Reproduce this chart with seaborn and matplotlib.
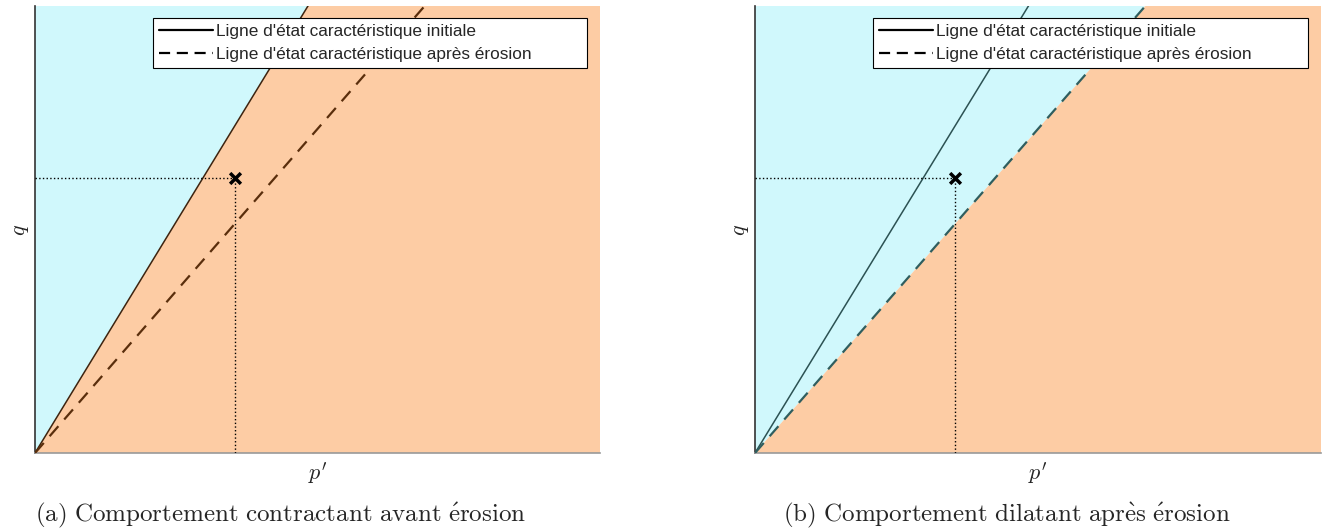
import matplotlib
matplotlib.use("Agg")
import matplotlib.pyplot as plt
from matplotlib.lines import Line2D
import seaborn as sns
import pandas as pd

# characteristic state lines (q = M p'), arbitrary units
p_line = [0.0, 1.0]
q_initial = [0.0, 2.07]
q_eroded = [0.0, 1.45]

# current stress state
state_p = [0.354]
state_q = [0.615]

legend_labels = ["Ligne d'état caractéristique initiale",
                 "Ligne d'état caractéristique après érosion"]
captions = [r"$\mathrm{(a)\ Comportement\ contractant\ avant\ \acute{e}rosion}$",
            r"$\mathrm{(b)\ Comportement\ dilatant\ apr\grave{e}s\ \acute{e}rosion}$"]

CYAN = "#d0f8fc"
PEACH = "#fdcca4"

sns.set_style("white")
plt.rcParams["font.family"] = ["Liberation Sans", "DejaVu Sans"]
plt.rcParams["mathtext.fontset"] = "cm"

fig = plt.figure(figsize=(13.22, 5.31), dpi=100)
ax_a = fig.add_axes([35 / 1322, 78 / 531, 565 / 1322, 447 / 531])
ax_b = fig.add_axes([755 / 1322, 78 / 531, 566 / 1322, 447 / 531])

df = pd.DataFrame({"p": p_line, "q0": q_initial, "q1": q_eroded})


def draw_panel(ax, boundary, line_cols):
    # domain split: cyan above the boundary line, peach below
    ax.fill_between(df["p"], df[boundary], 5, color=CYAN, lw=0, zorder=0)
    ax.fill_between(df["p"], 0, df[boundary], color=PEACH, lw=0, zorder=0)

    sns.lineplot(data=df, x="p", y="q0", ax=ax, color=line_cols[0], lw=1.1, zorder=3)
    sns.lineplot(data=df, x="p", y="q1", ax=ax, color=line_cols[1], lw=1.6,
                 dashes=False, zorder=3).lines[-1].set_dashes((6, 4))

    ax.plot([0, state_p[0]], [state_q[0], state_q[0]], ls=":", color="black", lw=1, zorder=4)
    ax.plot([state_p[0], state_p[0]], [0, state_q[0]], ls=":", color="black", lw=1, zorder=4)
    sns.scatterplot(x=state_p, y=state_q, ax=ax, marker="x", s=60, color="black",
                    linewidth=2.5, zorder=5)

    ax.set_xlim(0, 1)
    ax.set_ylim(0, 1)
    ax.set_xticks([])
    ax.set_yticks([])
    ax.set_xlabel(r"$p'$", fontsize=16, labelpad=5)
    ax.set_ylabel(r"$q$", fontsize=16, labelpad=3)
    for side in ["top", "right"]:
        ax.spines[side].set_visible(False)
    ax.spines["left"].set_color("#333333")
    ax.spines["bottom"].set_color("#999999")
    ax.spines["left"].set_linewidth(1.2)
    ax.spines["bottom"].set_linewidth(1.2)

    handles = [Line2D([], [], color="black", lw=1.6),
               Line2D([], [], color="black", lw=1.6, dashes=(5, 3))]
    leg = ax.legend(handles, legend_labels, loc="upper left",
                    bbox_to_anchor=(0.209, 0.973, 0.768, 0.0), mode="expand",
                    fontsize=12.4, handlelength=3.1, handletextpad=0.18, borderpad=0.35,
                    labelspacing=0.45, fancybox=False, framealpha=1, borderaxespad=0)
    leg.get_frame().set_edgecolor("black")
    leg.get_frame().set_linewidth(0.8)


draw_panel(ax_a, "q0", ["#3d2410", "#5a2e0c"])
draw_panel(ax_b, "q1", ["#2c5253", "#2f5e5f"])

fig.text(35 / 1322, 1 - 515 / 531, captions[0], fontsize=18, va="center", ha="left")
fig.text(783 / 1322, 1 - 515 / 531, captions[1], fontsize=18, va="center", ha="left")

fig.savefig("out.png", dpi=100)
